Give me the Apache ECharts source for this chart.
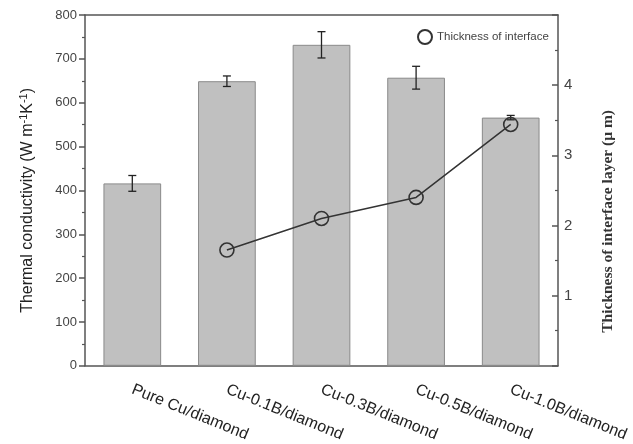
<!DOCTYPE html>
<html>
<head>
<meta charset="utf-8">
<script src="https://cdn.jsdelivr.net/npm/echarts@6/dist/echarts.min.js"></script>
<style>html,body{margin:0;padding:0;background:#fff;}#c{width:633px;height:444px;}</style>
</head>
<body>
<div id="c"></div>
<script>
var categories = ['Pure Cu/diamond', 'Cu-0.1B/diamond', 'Cu-0.3B/diamond', 'Cu-0.5B/diamond', 'Cu-1.0B/diamond'];
var conductivity = [416, 649, 732, 657, 566];
var conductivityErr = [18, 12, 30, 26, 5];
var thickness = [null, 1.65, 2.10, 2.40, 3.44];
var leftTicks = [0, 100, 200, 300, 400, 500, 600, 700, 800];
var rightTickLabels = ['1', '2', '3', '4'];

var chart = echarts.init(document.getElementById('c'));
var axisColor = '#555';
var errData = conductivity.map(function (v, i) { return [i, v, conductivityErr[i]]; });

chart.setOption({
  animation: false,
  backgroundColor: '#fff',
  grid: { left: 85, right: 75, top: 15, bottom: 77 },
  legend: {
    data: ['Thickness of interface'],
    icon: 'circle',
    itemStyle: { color: '#fff', borderColor: '#333', borderWidth: 2 },
    left: 412, top: 24, itemWidth: 14, itemHeight: 14, itemGap: 4,
    textStyle: { fontFamily: 'Liberation Sans', fontSize: 11.5, color: '#444' }
  },
  xAxis: [
    {
      type: 'category', data: categories, position: 'bottom',
      axisLine: { lineStyle: { color: axisColor, width: 1.5 } },
      axisTick: { alignWithLabel: true, length: 7, lineStyle: { color: axisColor, width: 1.5 } },
      axisLabel: { rotate: -22, margin: 23, fontFamily: 'Liberation Sans', fontSize: 16, color: '#222' }
    },
    {
      type: 'category', data: categories, position: 'bottom',
      axisLine: { show: false },
      axisTick: { length: 4, lineStyle: { color: axisColor, width: 1.2 } },
      axisLabel: { show: false }
    },
    {
      type: 'category', data: categories, position: 'top',
      axisLine: { lineStyle: { color: axisColor, width: 1.5 } },
      axisTick: { inside: true, length: 4, lineStyle: { color: axisColor, width: 1.2 } },
      axisLabel: { show: false }
    }
  ],
  yAxis: [
    {
      type: 'value', min: 0, max: 800, interval: 100, position: 'left',
      name: 'Thermal conductivity (W m{sup|-1}K{sup|-1})',
      nameLocation: 'middle', nameGap: 47, nameRotate: 90,
      nameTextStyle: {
        fontFamily: 'Liberation Sans', fontSize: 16, color: '#222', padding: [0, 20, 0, 0],
        rich: { sup: { fontSize: 11, verticalAlign: 'top', padding: [0, 0, 9, 0], fontFamily: 'Liberation Sans', color: '#222' } }
      },
      axisLine: { show: true, lineStyle: { color: axisColor, width: 1.5 } },
      axisTick: { show: true, length: 6, lineStyle: { color: axisColor, width: 1.5 } },
      minorTick: { show: true, splitNumber: 2, length: 3, lineStyle: { color: axisColor, width: 1.2 } },
      splitLine: { show: false },
      axisLabel: {
        fontFamily: 'Liberation Sans', fontSize: 13, color: '#444', margin: 8,
        formatter: function (v) { return leftTicks.indexOf(v) >= 0 ? String(v) : ''; }
      }
    },
    {
      type: 'value', min: 0, max: 5, interval: 1, position: 'right',
      name: 'Thickness of interface layer (μ m)',
      nameLocation: 'middle', nameGap: 42, nameRotate: 90,
      nameTextStyle: { fontFamily: 'Liberation Serif', fontWeight: 'bold', fontSize: 15.5, color: '#333', padding: [0, 62, 0, 0] },
      axisLine: { show: true, lineStyle: { color: axisColor, width: 1.5 } },
      axisTick: { show: true, inside: true, length: 6, lineStyle: { color: axisColor, width: 1.5 } },
      minorTick: { show: true, splitNumber: 2, length: 3, lineStyle: { color: axisColor, width: 1.2 } },
      splitLine: { show: false },
      axisLabel: {
        fontFamily: 'Liberation Sans', fontSize: 15, color: '#444', margin: 6,
        formatter: function (v) { return rightTickLabels.indexOf(String(v)) >= 0 ? String(v) : ''; }
      }
    }
  ],
  series: [
    {
      name: 'Thermal conductivity', type: 'bar', data: conductivity,
      xAxisIndex: 0, yAxisIndex: 0, barWidth: '61%',
      itemStyle: { color: '#c0c0c0', borderColor: '#8a8a8a', borderWidth: 1 }
    },
    {
      name: 'err', type: 'custom', xAxisIndex: 0, yAxisIndex: 0, data: errData, z: 5,
      renderItem: function (params, api) {
        var x = api.value(0), v = api.value(1), e = api.value(2);
        var top = api.coord([x, v + e]);
        var bot = api.coord([x, v - e]);
        var hw = 4;
        var st = { stroke: '#222', lineWidth: 1.3 };
        return {
          type: 'group',
          children: [
            { type: 'line', shape: { x1: top[0], y1: top[1], x2: bot[0], y2: bot[1] }, style: st },
            { type: 'line', shape: { x1: top[0] - hw, y1: top[1], x2: top[0] + hw, y2: top[1] }, style: st },
            { type: 'line', shape: { x1: bot[0] - hw, y1: bot[1], x2: bot[0] + hw, y2: bot[1] }, style: st }
          ]
        };
      }
    },
    {
      name: 'Thickness of interface', type: 'line', data: thickness,
      xAxisIndex: 0, yAxisIndex: 1, z: 10,
      symbol: 'circle', symbolSize: 14,
      lineStyle: { color: '#333', width: 1.5 },
      itemStyle: { color: 'rgba(0,0,0,0)', borderColor: '#333', borderWidth: 1.6 }
    }
  ]
});
</script>
</body>
</html>
